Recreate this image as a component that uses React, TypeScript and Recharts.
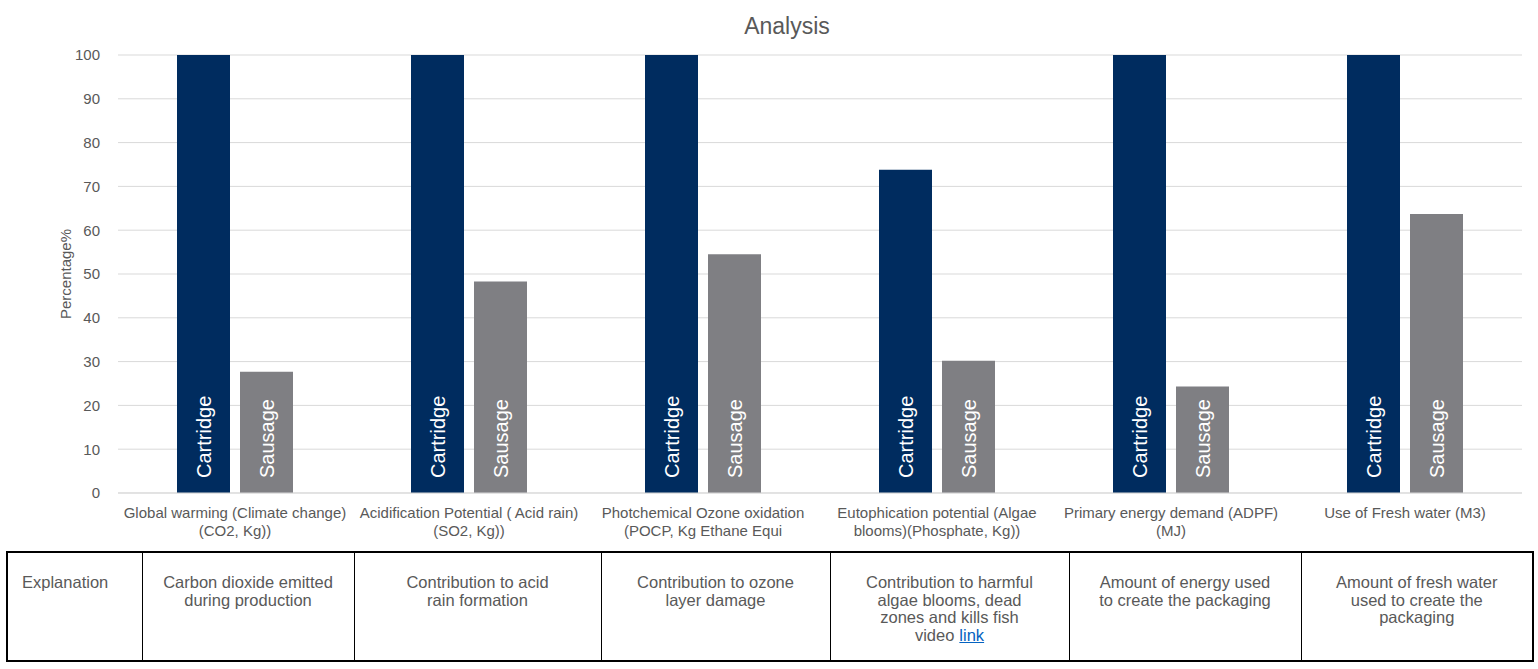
import React from 'react';
import { Bar, BarChart, CartesianGrid, LabelList, XAxis, YAxis } from 'recharts';

const NAVY = '#002c5f';
const GREY = '#7f7f83';
const TEXT = '#595959';
const FONT = '"Liberation Sans", Arial, sans-serif';

const categories = [
  'Global warming (Climate change)\n(CO2, Kg))',
  'Acidification Potential ( Acid rain)\n(SO2, Kg))',
  'Photchemical Ozone oxidation\n(POCP, Kg Ethane Equi',
  'Eutophication potential (Algae\nblooms)(Phosphate, Kg))',
  'Primary energy demand (ADPF)\n(MJ)',
  'Use of Fresh water (M3)',
];
const cartridge = [100, 100, 100, 73.8, 100, 100];
const sausage = [27.7, 48.3, 54.5, 30.2, 24.3, 63.7];
const yTicks = [0, 10, 20, 30, 40, 50, 60, 70, 80, 90, 100];

const explanations = [
  'Carbon dioxide emitted\nduring production',
  'Contribution to acid\nrain formation',
  'Contribution to ozone\nlayer damage',
  'Contribution to harmful\nalgae blooms, dead\nzones and kills fish\nvideo',
  'Amount of energy used\nto create the packaging',
  'Amount of fresh water\nused to create the\npackaging',
];
const colWidths = [135, 212, 247, 229, 239, 232, 232];

const data = categories.map((name, i) => ({
  name,
  cartridge: cartridge[i],
  sausage: sausage[i],
}));

function CategoryTick({ x, y, payload }: any) {
  const lines = String(payload.value).split('\n');
  return (
    <text x={x} y={y} textAnchor="middle" fill={TEXT} fontSize={15} fontFamily={FONT}>
      {lines.map((l, i) => (
        <tspan key={i} x={x} dy={i === 0 ? 23 : 17.5}>
          {l}
        </tspan>
      ))}
    </text>
  );
}

const barLabel = (text: string) => (props: any) => {
  const { x, y, width, height } = props;
  const cx = Number(x) + Number(width) / 2;
  const by = Number(y) + Number(height) - 15;
  return (
    <text
      x={cx}
      y={by}
      transform={`rotate(-90, ${cx}, ${by})`}
      textAnchor="start"
      dominantBaseline="central"
      fill="#ffffff"
      fontSize={20}
      fontFamily={FONT}
    >
      {text}
    </text>
  );
};

export default function App() {
  return (
    <div
      style={{
        position: 'absolute',
        left: 0,
        top: 0,
        width: 1538,
        height: 669,
        background: '#fff',
        fontFamily: FONT,
      }}
    >
      <div
        style={{
          position: 'absolute',
          top: 13,
          left: 687,
          width: 200,
          textAlign: 'center',
          fontSize: 23,
          color: TEXT,
        }}
      >
        Analysis
      </div>
      <BarChart
        width={1538}
        height={545}
        data={data}
        margin={{ top: 55, right: 16, left: 0, bottom: 2 }}
        barCategoryGap={59}
        barGap={10}
        barSize={53}
      >
        <CartesianGrid vertical={false} stroke="#d9d9d9" />
        <XAxis
          dataKey="name"
          height={50}
          axisLine={{ stroke: '#d9d9d9' }}
          tickLine={false}
          tickSize={0}
          interval={0}
          tick={<CategoryTick />}
        />
        <YAxis
          width={118}
          domain={[0, 100]}
          ticks={yTicks}
          axisLine={false}
          tickLine={false}
          tickMargin={12}
          tick={{ fill: TEXT, fontSize: 15, fontFamily: FONT }}
          label={{
            value: 'Percentage%',
            angle: -90,
            position: 'insideLeft',
            offset: 66,
            style: { textAnchor: 'middle', fill: TEXT, fontSize: 15, fontFamily: FONT },
          }}
        />
        <Bar dataKey="cartridge" fill={NAVY} isAnimationActive={false}>
          <LabelList dataKey="cartridge" content={barLabel('Cartridge')} />
        </Bar>
        <Bar dataKey="sausage" fill={GREY} isAnimationActive={false}>
          <LabelList dataKey="sausage" content={barLabel('Sausage')} />
        </Bar>
      </BarChart>
      <table
        style={{
          position: 'absolute',
          top: 551,
          left: 6,
          width: 1526,
          height: 111,
          borderCollapse: 'collapse',
          tableLayout: 'fixed',
          border: '2px solid #000',
          color: TEXT,
          fontSize: 16.5,
          lineHeight: '17.5px',
        }}
      >
        <colgroup>
          {colWidths.map((w, i) => (
            <col key={i} style={{ width: w }} />
          ))}
        </colgroup>
        <tbody>
          <tr>
            <td
              style={{
                borderRight: '1px solid #000',
                verticalAlign: 'top',
                padding: '21px 0 0 14px',
              }}
            >
              Explanation
            </td>
            {explanations.map((t, i) => {
              const lines = t.split('\n');
              return (
                <td
                  key={i}
                  style={{
                    borderRight: '1px solid #000',
                    verticalAlign: 'top',
                    textAlign: 'center',
                    padding: '21px 8px 0 8px',
                  }}
                >
                  {lines.map((l, j) => (
                    <div key={j}>
                      {i === 3 && j === lines.length - 1 ? (
                        <>
                          <span style={{ marginRight: 5 }}>{l}</span>
                          <span style={{ color: '#0563c1', textDecoration: 'underline' }}>link</span>
                        </>
                      ) : (
                        l
                      )}
                    </div>
                  ))}
                </td>
              );
            })}
          </tr>
        </tbody>
      </table>
    </div>
  );
}
